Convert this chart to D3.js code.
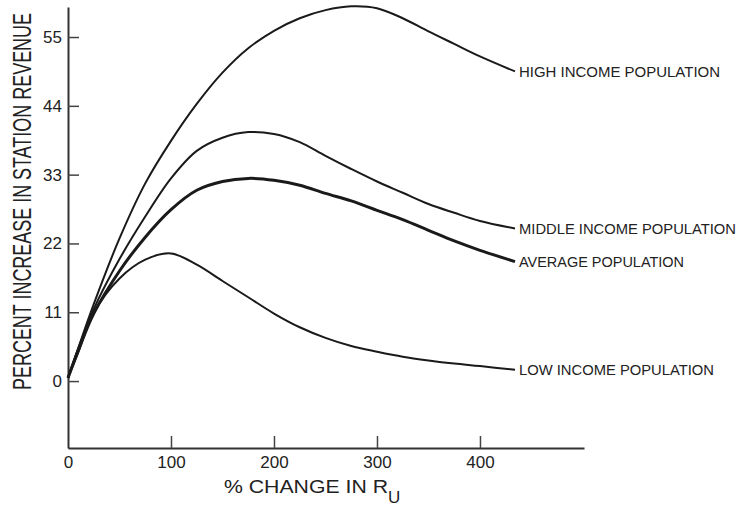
<!DOCTYPE html>
<html>
<head>
<meta charset="utf-8">
<script src="https://cdn.jsdelivr.net/npm/d3@7"></script>
<style>
  body { margin: 0; background: #fff; }
  text { font-family: "Liberation Sans", Arial, sans-serif; fill: #222; }
</style>
</head>
<body>
<div id="chart"></div>
<script>
// % change in R_U (shared x grid for all curves)
const changeRu = [0, 10, 25, 50, 75, 100, 125, 150, 175, 200, 225, 250, 275, 300, 325, 350, 375, 400, 434];

// percent increase in station revenue
const highIncome   = [0.5, 5.3, 12.3, 22.8, 31.6, 38.4, 44.3, 49.3, 53.2, 56.0, 58.0, 59.3, 59.9, 59.6, 58.0, 55.9, 53.9, 51.9, 49.5];
const middleIncome = [0.5, 5.2, 11.5, 19.5, 26.3, 32.4, 36.8, 38.9, 39.8, 39.5, 38.2, 36.0, 33.9, 31.9, 30.1, 28.3, 26.9, 25.6, 24.4];
const average      = [0.5, 4.9, 10.8, 17.6, 23.0, 27.4, 30.5, 31.9, 32.4, 32.1, 31.3, 30.0, 28.8, 27.3, 25.8, 24.1, 22.4, 20.9, 19.1];
const lowIncome    = [0.5, 4.6, 10.9, 16.4, 19.4, 20.4, 18.6, 16.0, 13.4, 10.8, 8.6, 6.9, 5.6, 4.7, 3.9, 3.3, 2.8, 2.4, 1.8];

const seriesNames = ["HIGH INCOME POPULATION", "MIDDLE INCOME POPULATION", "AVERAGE POPULATION", "LOW INCOME POPULATION"];
const seriesValues = [highIncome, middleIncome, average, lowIncome];

const xTicks = [0, 100, 200, 300, 400];
const yTicks = [0, 11, 22, 33, 44, 55];

const width = 752, height = 506;

const svg = d3.select("#chart")
  .append("svg")
  .attr("width", width)
  .attr("height", height);

const x = d3.scaleLinear().domain([0, 501]).range([68, 584]);
const y = d3.scaleLinear().domain([-10.7, 59.8]).range([448, 7]);

// axes
const yAxis = svg.append("g")
  .attr("transform", "translate(68,0)")
  .call(d3.axisLeft(y).tickValues(yTicks).tickSizeInner(-11).tickSizeOuter(0).tickPadding(6));

const xAxis = svg.append("g")
  .attr("transform", "translate(0,448)")
  .call(d3.axisBottom(x).tickValues(xTicks).tickSizeInner(-12).tickSizeOuter(0).tickPadding(8));

[xAxis, yAxis].forEach(g => {
  g.select(".domain").attr("stroke", "#333").attr("stroke-width", 2);
  g.selectAll(".tick line").attr("stroke", "#444").attr("stroke-width", 1.5);
  g.selectAll(".tick text")
    .attr("font-size", 17)
    .attr("font-family", "Liberation Sans, Arial, sans-serif")
    .attr("fill", "#222");
});
xAxis.selectAll(".tick").filter(d => d === 0).select("line").remove();

// axis titles (tall, narrow lettering like the original)
svg.append("text")
  .attr("transform", "translate(31,201.5) rotate(-90) scale(1,1.5)")
  .attr("text-anchor", "middle")
  .attr("font-size", 17)
  .attr("textLength", 377)
  .attr("lengthAdjust", "spacingAndGlyphs")
  .text("PERCENT INCREASE IN STATION REVENUE");

svg.append("text")
  .attr("x", 224)
  .attr("y", 493)
  .attr("font-size", 19)
  .attr("textLength", 164)
  .attr("lengthAdjust", "spacingAndGlyphs")
  .text("% CHANGE IN R");

svg.append("text")
  .attr("x", 388)
  .attr("y", 503)
  .attr("font-size", 17)
  .text("U");

// curves
const line = d3.line()
  .x((d, i) => x(changeRu[i]))
  .y(d => y(d))
  .curve(d3.curveCatmullRom.alpha(0.5));

const strokeW = [2, 2, 3, 2];

svg.selectAll("path.curve")
  .data(seriesValues)
  .enter()
  .append("path")
  .attr("class", "curve")
  .attr("d", line)
  .attr("fill", "none")
  .attr("stroke", "#1a1a1a")
  .attr("stroke-width", (d, i) => strokeW[i]);

// labels at curve ends
const labelLen = [201, 217, 165, 195];
svg.selectAll("text.series")
  .data(seriesValues)
  .enter()
  .append("text")
  .attr("class", "series")
  .attr("x", 519)
  .attr("y", d => y(d[d.length - 1]))
  .attr("dy", "0.36em")
  .attr("font-size", 15)
  .attr("textLength", (d, i) => labelLen[i])
  .attr("lengthAdjust", "spacingAndGlyphs")
  .text((d, i) => seriesNames[i]);
</script>
</body>
</html>
